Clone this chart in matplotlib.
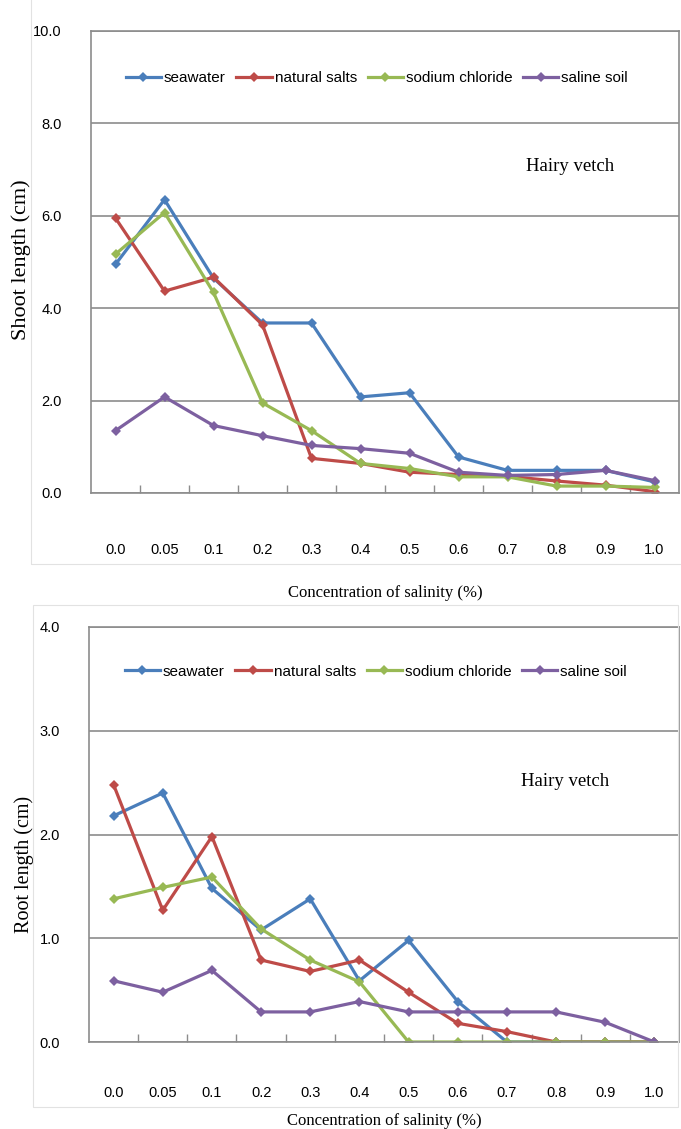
import numpy as np
import matplotlib
matplotlib.use("Agg")
import matplotlib.pyplot as plt
from matplotlib.patches import Rectangle
from matplotlib.ticker import FixedLocator

# Data
conc = ["0.0", "0.05", "0.1", "0.2", "0.3", "0.4", "0.5", "0.6", "0.7", "0.8", "0.9", "1.0"]
series_names = ["seawater", "natural salts", "sodium chloride", "saline soil"]

shoot_seawater = [4.95, 6.35, 4.65, 3.68, 3.68, 2.08, 2.17, 0.78, 0.49, 0.49, 0.49, 0.24]
shoot_natural = [5.95, 4.37, 4.67, 3.64, 0.75, 0.64, 0.45, 0.40, 0.36, 0.26, 0.17, 0.03]
shoot_nacl = [5.17, 6.07, 4.34, 1.95, 1.35, 0.64, 0.53, 0.35, 0.35, 0.15, 0.15, 0.12]
shoot_soil = [1.35, 2.08, 1.46, 1.24, 1.03, 0.96, 0.86, 0.45, 0.38, 0.40, 0.49, 0.27]

root_seawater = [2.18, 2.40, 1.48, 1.08, 1.38, 0.59, 0.98, 0.39, 0.0, 0.0, 0.0, 0.0]
root_natural = [2.48, 1.27, 1.98, 0.79, 0.68, 0.79, 0.48, 0.18, 0.10, 0.0, 0.0, 0.0]
root_nacl = [1.38, 1.49, 1.59, 1.09, 0.79, 0.58, 0.0, 0.0, 0.0, 0.0, 0.0, 0.0]
root_soil = [0.59, 0.48, 0.69, 0.29, 0.29, 0.39, 0.29, 0.29, 0.29, 0.29, 0.19, 0.0]

colors = ["#4a7ebb", "#be4b48", "#98b954", "#7d60a0"]

SERIF = ["Liberation Serif", "DejaVu Serif"]
SANS = ["Liberation Sans", "DejaVu Sans"]

W, H = 681, 1129
fig = plt.figure(figsize=(W / 100, H / 100), dpi=100, facecolor="white")

# faint outer chart frames
fig.add_artist(Rectangle((31 / W, 1 - 564 / H), 0.99, 564 / H + 0.01, transform=fig.transFigure,
                         fill=False, edgecolor="#e2e2e2", linewidth=0.8))
fig.add_artist(Rectangle((33 / W, 1 - 1107 / H), (678 - 33) / W, (1107 - 605) / H,
                         transform=fig.transFigure, fill=False, edgecolor="#e2e2e2", linewidth=0.8))


def panel(rect, data, ymax, ystep, ylabel, ylab_xy, ylab_size, leg_y, note_xy, xpad):
    ax = fig.add_axes(rect)
    for vals, name, c in zip(data, series_names, colors):
        ax.plot(conc, vals, color=c, linewidth=2.3, marker="D", markersize=5,
                markeredgewidth=0, label=name, solid_joinstyle="round")
    ax.set_xlim(-0.5, len(conc) - 0.5)
    ax.set_ylim(0, ymax)
    yt = np.arange(0, ymax + ystep / 2, ystep)
    ax.set_yticks(yt)
    ax.set_yticklabels([f"{v:.1f}" for v in yt], family=SANS, fontsize=10.5)
    ax.yaxis.grid(True, color="#8c8c8c", linewidth=1.2)
    ax.set_axisbelow(True)
    for s in ax.spines.values():
        s.set_color("#8c8c8c")
        s.set_linewidth(1.2)
    ax.tick_params(axis="y", length=0, pad=21)
    ax.tick_params(axis="x", which="major", length=0, pad=xpad, labelsize=10.5)
    for lab in ax.get_xticklabels():
        lab.set_family(SANS)
    ax.xaxis.set_minor_locator(FixedLocator(np.arange(0.5, len(conc) - 1, 1.0)))
    ax.tick_params(axis="x", which="minor", direction="in", length=6, width=1, color="#8c8c8c")
    ax.set_ylabel(ylabel, family=SERIF, fontsize=ylab_size)
    ax.yaxis.set_label_coords(*ylab_xy)
    ax.yaxis.label.set_va("center")
    ax.set_xlabel("Concentration of salinity (%)", family=SERIF, fontsize=12)
    ax.legend(loc="center", bbox_to_anchor=(0.486, leg_y), ncol=4, frameon=False,
              prop={"family": SANS, "size": 11}, handlelength=2.3,
              handletextpad=0.2, columnspacing=0.7)
    ax.text(note_xy[0], note_xy[1], "Hairy vetch", transform=ax.transAxes,
            family=SERIF, fontsize=13.5, ha="center", va="center")
    return ax


ax1 = panel([91 / W, 1 - 493 / H, (679 - 91) / W, (493 - 31) / H],
            [shoot_seawater, shoot_natural, shoot_nacl, shoot_soil],
            10.0, 2.0, "Shoot length (cm)", (-0.119, 0.506), 16, 0.898, (0.815, 0.706), 36)
ax1.xaxis.set_label_coords(0.5, -0.2)

ax2 = panel([89 / W, 1 - 1042 / H, (679 - 89) / W, (1042 - 627) / H],
            [root_seawater, root_natural, root_nacl, root_soil],
            4.0, 1.0, "Root length (cm)", (-0.11, 0.427), 14.5, 0.892, (0.807, 0.627), 32)
ax2.xaxis.set_label_coords(0.5, -0.17)

fig.savefig("out.png", dpi=100, facecolor="white")
